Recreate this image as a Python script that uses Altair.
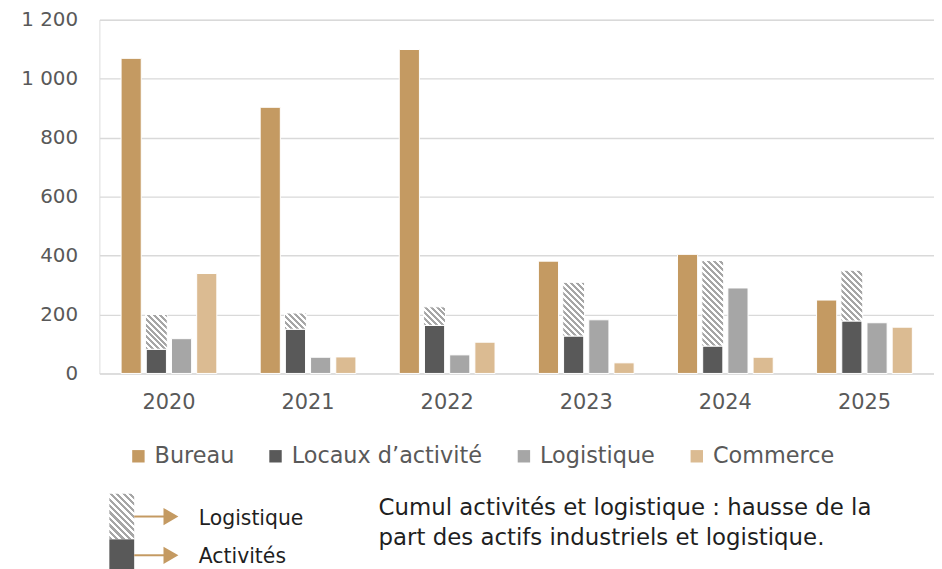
import altair as alt
import pandas as pd

# ---------------- data ----------------
YEARS = ["2020", "2021", "2022", "2023", "2024", "2025"]
SERIES = ["Bureau", "Locaux d’activité", "Logistique", "Commerce"]
BUREAU = [1069, 903, 1099, 381, 404, 249]
ACTIVITE = [82, 150, 163, 127, 93, 178]
LOGISTIQUE = [118, 55, 63, 182, 290, 172]
COMMERCE = [339, 56, 106, 36, 55, 157]
Y_TICKS = [0, 200, 400, 600, 800, 1000, 1200]
NOTE = ["Cumul activités et logistique : hausse de la",
        "part des actifs industriels et logistique."]

COLORS = ["#C49A62", "#595959", "#A6A6A6", "#DBBB92"]
FONT = "DejaVu Sans"

W, H = 840, 356
YMAX = 1200
HATCH_W = 22

rows = []
for i, yr in enumerate(YEARS):
    for s, vals in zip(SERIES, [BUREAU, ACTIVITE, LOGISTIQUE, COMMERCE]):
        rows.append({"year": yr, "series": s, "value": vals[i]})
df = pd.DataFrame(rows)

hatch_df = pd.DataFrame({"year": YEARS, "series": SERIES[1],
                         "act": ACTIVITE, "log": LOGISTIQUE})


def hatch_gradient(w, h, period=6.0, c1="#A6A6A6", c2="#FFFFFF"):
    """Diagonal (\\) stripes at 45 deg for a w x h pixel box (bbox-relative gradient)."""
    L = w + h
    half = period / 2.0
    s = w * (w + h) / (w * w + h * h)
    cols = [c1, c2]
    stops = [{"offset": 0, "color": cols[0]}]
    k = 1
    while k * half < L:
        off = round(k * half / L, 5)
        stops.append({"offset": off, "color": cols[(k - 1) % 2]})
        stops.append({"offset": off, "color": cols[k % 2]})
        k += 1
    stops.append({"offset": 1, "color": cols[(k - 1) % 2]})
    return {"gradient": "linear", "x1": 0, "y1": 1,
            "x2": round(s, 5), "y2": round(1 - s * h / w, 5), "stops": stops}


px_per_unit = H / YMAX
hatch_conditions = [
    {"test": f"datum.year === '{yr}'",
     "value": hatch_gradient(HATCH_W, max(LOGISTIQUE[i] * px_per_unit, 1))}
    for i, yr in enumerate(YEARS)
]

x_enc = alt.X("year:N", sort=YEARS,
              scale=alt.Scale(paddingInner=0, paddingOuter=0),
              axis=alt.Axis(title=None, labelAngle=0, labelFont=FONT,
                            labelFontSize=21, labelColor="#595959",
                            labelPadding=18, ticks=False, tickSize=0,
                            domain=False, grid=False))
xoff_enc = alt.XOffset("series:N", sort=SERIES,
                       scale=alt.Scale(domain=SERIES, paddingInner=0.2,
                                       paddingOuter=0.86))

bars = alt.Chart(df).mark_bar(stroke="white", strokeWidth=1).encode(
    x=x_enc,
    xOffset=xoff_enc,
    y=alt.Y("value:Q",
            scale=alt.Scale(domain=[0, YMAX], nice=False),
            axis=alt.Axis(title=None, values=Y_TICKS,
                          labelExpr="replace(format(datum.value, ','), ',', ' ')",
                          labelFont=FONT, labelFontSize=20,
                          labelColor="#595959", labelPadding=22,
                          ticks=False, tickSize=0, domain=False,
                          gridColor="#D9D9D9", gridWidth=1.4)),
    color=alt.Color("series:N", sort=SERIES,
                    scale=alt.Scale(domain=SERIES, range=COLORS),
                    legend=alt.Legend(title=None, orient="none",
                                      direction="horizontal", columns=4,
                                      legendX=28, legendY=428,
                                      symbolType="square", symbolSize=156,
                                      symbolStrokeWidth=0,
                                      labelFont=FONT, labelFontSize=22.5,
                                      labelColor="#595959", labelOffset=5,
                                      labelLimit=500,
                                      columnPadding=30, padding=0)),
)

hatched = alt.Chart(hatch_df).transform_calculate(
    top="datum.act + datum.log"
).mark_bar(width=HATCH_W, xOffset=-2, stroke="white", strokeWidth=1).encode(
    x=alt.X("year:N", sort=YEARS),
    xOffset=alt.XOffset("series:N", sort=SERIES),
    y=alt.Y("act:Q"),
    y2=alt.Y2("top:Q"),
    fill=alt.FillValue(value="#A6A6A6", condition=hatch_conditions),
)

one = pd.DataFrame({"k": [0]})
TAN = COLORS[0]

legend_hatch = alt.Chart(one).mark_rect(
    fill=hatch_gradient(25, 46, period=6.5)
).encode(x=alt.value(10), x2=alt.value(35), y=alt.value(477), y2=alt.value(523))

legend_dark = alt.Chart(one).mark_rect(fill="#595959").encode(
    x=alt.value(10), x2=alt.value(35), y=alt.value(523), y2=alt.value(553))

arrow1 = alt.Chart(one).mark_rule(color=TAN, strokeWidth=2).encode(
    x=alt.value(35), x2=alt.value(66), y=alt.value(500))
arrow2 = alt.Chart(one).mark_rule(color=TAN, strokeWidth=2).encode(
    x=alt.value(35), x2=alt.value(66), y=alt.value(539))
head1 = alt.Chart(one).mark_point(shape="triangle-right", filled=True,
                                  color=TAN, opacity=1, size=300).encode(
    x=alt.value(72), y=alt.value(500))
head2 = alt.Chart(one).mark_point(shape="triangle-right", filled=True,
                                  color=TAN, opacity=1, size=300).encode(
    x=alt.value(72), y=alt.value(539))

txt_log = alt.Chart(one).mark_text(
    text="Logistique", align="left", baseline="alphabetic",
    font=FONT, fontSize=20.5, color="#1F1F1F"
).encode(x=alt.value(100), y=alt.value(508.5))
txt_act = alt.Chart(one).mark_text(
    text="Activités", align="left", baseline="alphabetic",
    font=FONT, fontSize=20.5, color="#1F1F1F"
).encode(x=alt.value(100), y=alt.value(547))
txt_note = alt.Chart(one).mark_text(
    text=NOTE, align="left", baseline="alphabetic", lineHeight=30,
    font=FONT, fontSize=23, color="#1F1F1F"
).encode(x=alt.value(281), y=alt.value(498.5))

chart = alt.layer(
    bars, hatched, legend_hatch, legend_dark, arrow1, arrow2, head1, head2,
    txt_log, txt_act, txt_note
).properties(
    width=W, height=H,
    autosize=alt.AutoSizeParams(type="none"),
    padding={"left": 92, "top": 10, "right": 0, "bottom": 195},
).configure_view(stroke=None).configure(background="white")

chart.save("out.html", embed_options={"renderer": "svg", "actions": False})
